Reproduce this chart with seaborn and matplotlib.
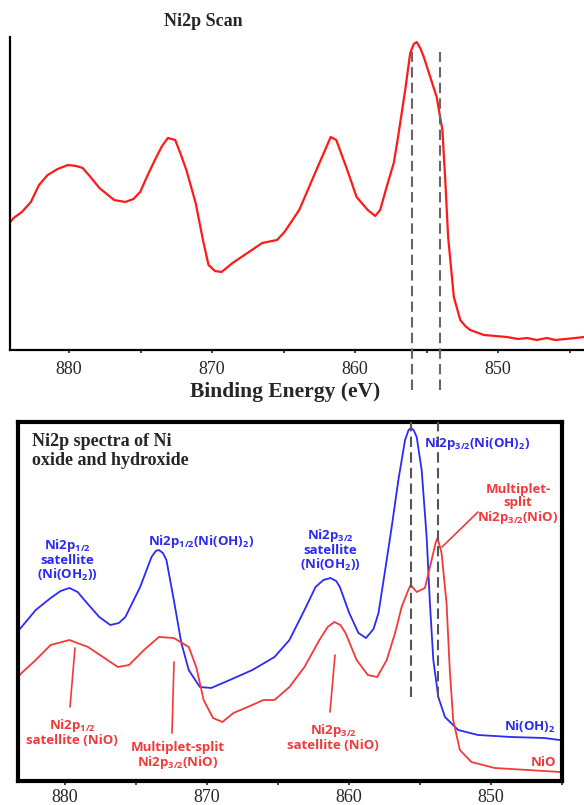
import numpy as np
import pandas as pd
import matplotlib
matplotlib.use("Agg")
import matplotlib.pyplot as plt
import seaborn as sns

# ---------------- data ----------------
# Top panel: Ni2p scan (binding energy eV, intensity a.u.)
top_energy = [884.1, 883.88, 883.3, 882.67, 882.1, 881.5, 880.8, 880.08, 879.5, 879.05, 878.5, 877.88, 876.85, 876.07, 875.5, 875.03,
              874.5, 874.0, 873.5, 873.09, 872.58, 872.2, 871.8, 871.15, 870.64, 870.25, 869.8, 869.34, 868.57, 867.53,
              866.5, 865.46, 864.94, 863.91, 862.62, 862.1, 861.71, 861.32, 860.55, 859.9, 859.12,
              858.6, 858.25, 857.8, 857.3, 857.0, 856.5, 856.15, 855.9, 855.7, 855.45, 855.2, 854.75,
              854.3, 853.9, 853.7, 853.5, 853.1, 852.65, 852.3, 851.96, 851.0, 850.2, 849.4,
              848.6, 848.0, 847.3, 846.6, 846.0, 845.3, 844.6, 844.0]
top_intensity = [128, 132, 138, 148, 165, 175, 181, 185, 184, 182, 173, 162, 150, 148, 151, 158,
                 175, 190, 204, 212, 210, 196, 180, 147, 110, 85, 79, 78, 87, 97,
                 107, 110, 118, 140, 183, 200, 213, 210, 180, 153, 140,
                 134, 140, 163, 187, 213, 260, 297, 306, 308, 302, 293, 273,
                 253, 220, 170, 113, 53, 30, 24, 20, 15, 14, 13,
                 11, 12, 10, 12, 10, 11, 12, 13]

# Bottom panel: Ni(OH)2 reference spectrum
ohh_energy = [883.3, 883.05, 882.05, 881.0, 880.3, 879.68, 879.1, 878.63, 877.58, 876.8, 876.2, 875.74, 874.7,
              873.9, 873.6, 873.38, 873.1, 872.85, 872.33, 871.8, 871.28, 870.5, 869.7, 868.39, 866.8,
              865.24, 864.19, 863.13, 862.35, 861.8, 861.3, 860.9, 860.64, 859.98, 859.33, 858.8, 858.27,
              857.92, 857.45, 856.99, 856.52, 856.05, 855.8, 855.65, 855.45, 855.23, 854.88, 854.53, 854.3,
              854.06, 853.71, 853.24, 852.31, 850.91, 848.58, 846.24, 845.16]
ohh_intensity = [150, 154, 171, 183, 190, 193, 189, 181, 164, 156, 158, 164, 194,
                 224, 230, 231, 228, 221, 181, 138, 111, 94, 93, 101, 111,
                 124, 141, 171, 194, 201, 203, 200, 194, 168, 148, 143, 152,
                 168, 211, 254, 301, 341, 351, 353, 351, 344, 311, 244, 178,
                 121, 84, 64, 51, 46, 44, 43, 41]

# Bottom panel: NiO reference spectrum
nio_energy = [883.3, 883.05, 882.05, 881.0, 879.68, 878.37, 877.32, 876.27, 875.48, 874.43,
              873.38, 872.33, 871.28, 870.75, 870.23, 869.57, 868.91, 868.13, 866.81, 866.02,
              865.24, 864.19, 863.13, 862.08, 861.5, 861.03, 860.6, 860.24, 859.46, 858.67, 858.01, 857.34,
              856.75, 856.29, 855.82, 855.65, 855.23, 854.65, 854.18, 853.9, 853.76, 853.48, 853.13,
              852.9, 852.66, 852.19, 851.38, 849.74, 847.41, 845.16]
nio_intensity = [104, 108, 121, 136, 141, 134, 124, 114, 116, 131,
                 144, 143, 134, 114, 81, 63, 59, 68, 76, 81,
                 81, 94, 114, 141, 154, 159, 156, 148, 121, 106, 104, 121,
                 148, 174, 191, 196, 189, 193, 221, 238, 243, 228, 178,
                 111, 61, 31, 19, 13, 11, 9]

# reference energies (dashed markers)
top_markers = [856.0, 854.1]
bottom_markers = [855.65, 853.76]

xticks_major = [880, 870, 860, 850]
xtick_labels = ["880", "870", "860", "850"]
xticks_minor = [875, 865, 855, 845]

top_title = "Ni2p Scan"
xlabel = "Binding Energy (eV)"
bottom_title = "Ni2p spectra of Ni\noxide and hydroxide"

# ---------------- style ----------------
sns.set_style("white")
plt.rcParams["font.family"] = ["Liberation Serif", "DejaVu Serif"]

W, H = 584, 805
fig = plt.figure(figsize=(W / 100, H / 100), dpi=100)

RED = "#ff1a1a"
RED2 = "#f23a3a"
BLUE = "#2b2bf5"
SANS = ["Open Sans", "DejaVu Sans"]

# ---------------- top panel ----------------
tl, tr, tb, tt = 10, 584, 350, 37
ax1 = fig.add_axes([tl / W, 1 - tb / H, (tr - tl) / W, (tb - tt) / H])
df_top = pd.DataFrame({"E": top_energy, "I": top_intensity})
sns.lineplot(data=df_top, x="E", y="I", ax=ax1, color=RED, lw=1.6, sort=False)
ax1.set_xlim(884.13, 844.0)
ax1.set_ylim(0, tb - tt)
ax1.set_xlabel("")
ax1.set_ylabel("")
ax1.set_yticks([])
for s in ["top", "right"]:
    ax1.spines[s].set_visible(False)
for s in ["left", "bottom"]:
    ax1.spines[s].set_linewidth(1.6)
    ax1.spines[s].set_color("black")
ax1.set_xticks(xticks_major)
ax1.set_xticklabels(xtick_labels, fontsize=13)
ax1.set_xticks(xticks_minor, minor=True)
ax1.tick_params(axis="x", which="both", direction="out", length=2, width=1.2,
                pad=6, bottom=True)
for e in top_markers:
    ax1.axvline(e, ymin=-40 / (tb - tt), ymax=(tb - 52) / (tb - tt), color="#666666",
                lw=1.5, ls=(0, (5, 2.5)), clip_on=False, zorder=3)
fig.text(203 / W, 1 - 22 / H, top_title, fontsize=13, fontweight="bold",
         ha="center", va="center")
fig.text(285 / W, 1 - 392 / H, xlabel, fontsize=15.5, fontweight="bold",
         ha="center", va="center")

# ---------------- bottom panel ----------------
bl, br, bb, bt = 18, 562, 781, 422
ax2 = fig.add_axes([bl / W, 1 - bb / H, (br - bl) / W, (bb - bt) / H])
df_ohh = pd.DataFrame({"E": ohh_energy, "I": ohh_intensity})
df_nio = pd.DataFrame({"E": nio_energy, "I": nio_intensity})
sns.lineplot(data=df_ohh, x="E", y="I", ax=ax2, color=BLUE, lw=1.3, sort=False)
sns.lineplot(data=df_nio, x="E", y="I", ax=ax2, color=RED2, lw=1.3, sort=False)
ax2.set_xlim(883.3, 845.16)
ax2.set_ylim(0, bb - bt)
ax2.set_xlabel("")
ax2.set_ylabel("")
ax2.set_yticks([])
for s in ax2.spines.values():
    s.set_visible(True)
    s.set_linewidth(3)
    s.set_color("black")
ax2.set_xticks(xticks_major)
ax2.set_xticklabels(xtick_labels, fontsize=13)
ax2.set_xticks(xticks_minor, minor=True)
ax2.tick_params(axis="x", which="both", direction="out", length=3, width=1.2,
                pad=3, bottom=True)
for e in bottom_markers:
    ax2.axvline(e, ymin=(bb - 697) / (bb - bt), ymax=1.0, color="#555555",
                lw=1.5, ls=(0, (5, 2.5)), zorder=3)


def fr(px, py):
    return ((px - bl) / (br - bl), (bb - py) / (bb - bt))


ax2.text(*fr(32, 451), bottom_title, transform=ax2.transAxes, fontsize=13,
         fontweight="bold", ha="left", va="center", linespacing=1.15)

lab_kw = dict(transform=ax2.transAxes, fontsize=9.5, fontweight="bold",
              family=SANS, ha="center", va="center", linespacing=1.0)
ax2.text(*fr(67, 560), "Ni2p$_\\mathregular{1/2}$\nsatellite\n(Ni(OH$_\\mathregular{2}$))",
         color=BLUE, **lab_kw)
ax2.text(*fr(201, 542), "Ni2p$_\\mathregular{1/2}$(Ni(OH)$_\\mathregular{2}$)",
         color=BLUE, **lab_kw)
ax2.text(*fr(330, 550), "Ni2p$_\\mathregular{3/2}$\nsatellite\n(Ni(OH$_\\mathregular{2}$))",
         color=BLUE, **lab_kw)
ax2.text(*fr(477, 443), "Ni2p$_\\mathregular{3/2}$(Ni(OH)$_\\mathregular{2}$)",
         color=BLUE, **lab_kw)
ax2.text(*fr(530, 727), "Ni(OH)$_\\mathregular{2}$", color=BLUE, **lab_kw)
ax2.text(*fr(543, 762), "NiO", color=RED2, **lab_kw)

ax2.text(*fr(518, 504), "Multiplet-\nsplit\nNi2p$_\\mathregular{3/2}$(NiO)",
         color=RED2, **lab_kw)
ax2.text(*fr(72, 732), "Ni2p$_\\mathregular{1/2}$\nsatellite (NiO)", color=RED2, **lab_kw)
ax2.text(*fr(178, 756), "Multiplet-split\nNi2p$_\\mathregular{3/2}$(NiO)", color=RED2, **lab_kw)
ax2.text(*fr(333, 737), "Ni2p$_\\mathregular{3/2}$\nsatellite (NiO)", color=RED2, **lab_kw)

# leader lines
leaders = [((478, 512), (442, 547)), ((75, 648), (70, 707)),
           ((174, 662), (172, 733)), ((335, 655), (330, 712))]
for (x0, y0), (x1, y1) in leaders:
    a, b = fr(x0, y0)
    c, d = fr(x1, y1)
    ax2.plot([a, c], [b, d], transform=ax2.transAxes, color=RED2, lw=1.2)

fig.savefig("out.png", dpi=100)
